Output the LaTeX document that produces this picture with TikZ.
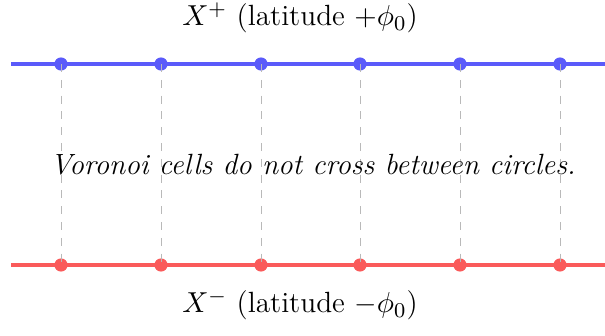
\documentclass[tikz,border=0pt]{standalone}
\usetikzlibrary{calc}
\definecolor{topblue}{RGB}{90,90,250}
\definecolor{botred}{RGB}{250,90,90}
\tikzset{
  circline/.style={line width=1.2pt},
  site/.style={circle, inner sep=0pt, minimum size=5pt},
  cellsep/.style={gray!55, dashed, line width=0.35pt},
  lbl/.style={inner sep=0pt, font=\fontsize{11.1}{13}\selectfont}
}
\begin{document}
\begin{tikzpicture}[x=0.3795pt, y=-0.3795pt]
\useasboundingbox (0,0) rectangle (605,335);
\coordinate (tl) at (11,64);
\coordinate (tr) at (605,64);
\coordinate (bl) at (11,265);
\coordinate (br) at (605,265);
\draw[circline, topblue] (tl) -- (tr);
\draw[circline, botred] (bl) -- (br);
\foreach \i/\x in {1/61,2/161,3/261,4/360,5/460,6/560}{
  \node[site, fill=topblue] (p\i) at (\x,64) {};
  \node[site, fill=botred] (q\i) at (\x,265) {};
  \draw[cellsep] (p\i.center) -- (q\i.center);
}
\node[lbl] (top) at (300,18) {$X^{+}$ (latitude $+\phi_0$)};
\node[lbl] (bot) at (300,305) {$X^{-}$ (latitude $-\phi_0$)};
\node[lbl] (mid) at (313,165) {\textit{Voronoi cells do not cross between circles.}};
\end{tikzpicture}
\end{document}
